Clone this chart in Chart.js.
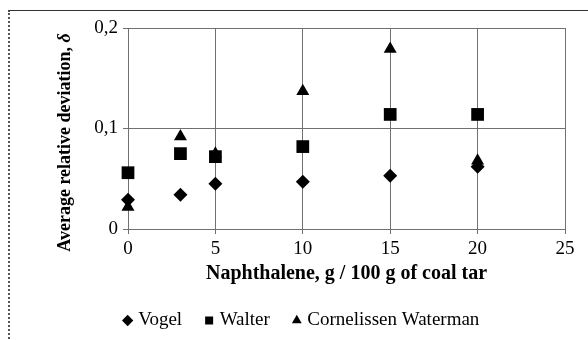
<!DOCTYPE html>
<html>
<head>
<meta charset="utf-8">
<script src="https://cdn.jsdelivr.net/npm/chart.js@4"></script>
<style>
  html, body { margin: 0; padding: 0; background: #fff; overflow: hidden; }
  #wrap { position: relative; width: 588px; height: 340px; }
  #frame { position: absolute; left: 8px; top: 10px; width: 620px; height: 360px;
           border-top: 1px solid #333; border-left: 2px dotted #555; }
  #c { position: absolute; left: 0; top: 0; }
</style>
</head>
<body>
<div id="wrap">
  <div id="frame"></div>
  <canvas id="c" width="588" height="340"></canvas>
</div>
<script>
// ====== DATA ======
const naphthalene = [0, 3, 5, 10, 15, 20];
const vogel       = [0.029, 0.034, 0.045, 0.047, 0.053, 0.062];
const walter      = [0.056, 0.075, 0.072, 0.082, 0.114, 0.114];
const cornelissen = [0.022, 0.092, 0.075, 0.137, 0.179, 0.068];
const seriesNames = ["Vogel", "Walter", "Cornelissen Waterman"];
const xTicks = [0, 5, 10, 15, 20, 25];
const yTicks = [0, 0.1, 0.2];

// ====== HELPERS ======
const FONT = "'Liberation Serif', 'Times New Roman', serif";
const GRID = "#707070";
const pts = (ys) => naphthalene.map((x, i) => ({ x, y: ys[i] }));
const fmtY = (v) => String(Number(v.toFixed(1))).replace(".", ",");

// y title with italic delta, drawn rotated at the left
const yTitlePlugin = {
  id: "yTitle",
  afterDraw(chart) {
    const ctx = chart.ctx;
    const a = chart.chartArea;
    const main = "Average relative deviation, ";
    const sym = "\u03b4";
    ctx.save();
    ctx.fillStyle = "#000";
    ctx.textBaseline = "middle";
    ctx.font = "bold 18px " + FONT;
    const w1 = ctx.measureText(main).width;
    ctx.font = "italic bold 18px " + FONT;
    const w2 = ctx.measureText(sym).width;
    ctx.translate(65, (a.top + a.bottom) / 2 + 14);
    ctx.rotate(-Math.PI / 2);
    let x = -(w1 + w2) / 2;
    ctx.font = "bold 18px " + FONT;
    ctx.fillText(main, x, 0);
    ctx.font = "italic bold 18px " + FONT;
    ctx.fillText(sym, x + w1, 0);
    ctx.restore();
  }
};

// ====== CHART ======
const styles = [
  { pointStyle: "rectRot", pointRadius: 7 },
  { pointStyle: "rect", pointRadius: 9 },
  { pointStyle: "triangle", pointRadius: 7.5 }
];
const values = [vogel, walter, cornelissen];

new Chart(document.getElementById("c"), {
  type: "scatter",
  data: {
    datasets: values.map((ys, i) => ({
      label: seriesNames[i],
      data: pts(ys),
      pointStyle: styles[i].pointStyle,
      pointRadius: styles[i].pointRadius,
      pointHoverRadius: styles[i].pointRadius,
      backgroundColor: "#000",
      borderColor: "#000",
      borderWidth: 0,
      clip: false
    }))
  },
  options: {
    responsive: false,
    animation: false,
    layout: { padding: { left: 41, right: 23, top: 28, bottom: 0 } },
    plugins: {
      tooltip: { enabled: false },
      legend: {
        position: "bottom",
        labels: {
          usePointStyle: true,
          boxWidth: 2, boxHeight: 8,
          padding: 26,
          color: "#000",
          font: { family: FONT, size: 19 }
        }
      }
    },
    scales: {
      x: {
        type: "linear",
        min: 0, max: 25,
        afterBuildTicks: (s) => { s.ticks = xTicks.map(v => ({ value: v })); },
        afterFit: (s) => { s.height = 56; },
        grid: { color: GRID, lineWidth: 1, tickLength: 5, drawTicks: true },
        border: { color: GRID, width: 1 },
        ticks: { color: "#000", padding: 4, maxRotation: 0, font: { family: FONT, size: 19 } },
        title: { display: true, text: "Naphthalene, g / 100 g of coal tar", color: "#000",
                 padding: { top: 0, bottom: -1 }, font: { family: FONT, size: 20, weight: "bold" } }
      },
      y: {
        type: "linear",
        min: 0, max: 0.2,
        afterBuildTicks: (s) => { s.ticks = yTicks.map(v => ({ value: v })); },
        afterFit: (s) => { s.width = 87; },
        grid: { color: GRID, lineWidth: 1, tickLength: 5 },
        border: { color: GRID, width: 1 },
        ticks: { color: "#000", padding: 5, callback: (v) => fmtY(v), font: { family: FONT, size: 19 } }
      }
    }
  },
  plugins: [yTitlePlugin]
});
</script>
</body>
</html>
